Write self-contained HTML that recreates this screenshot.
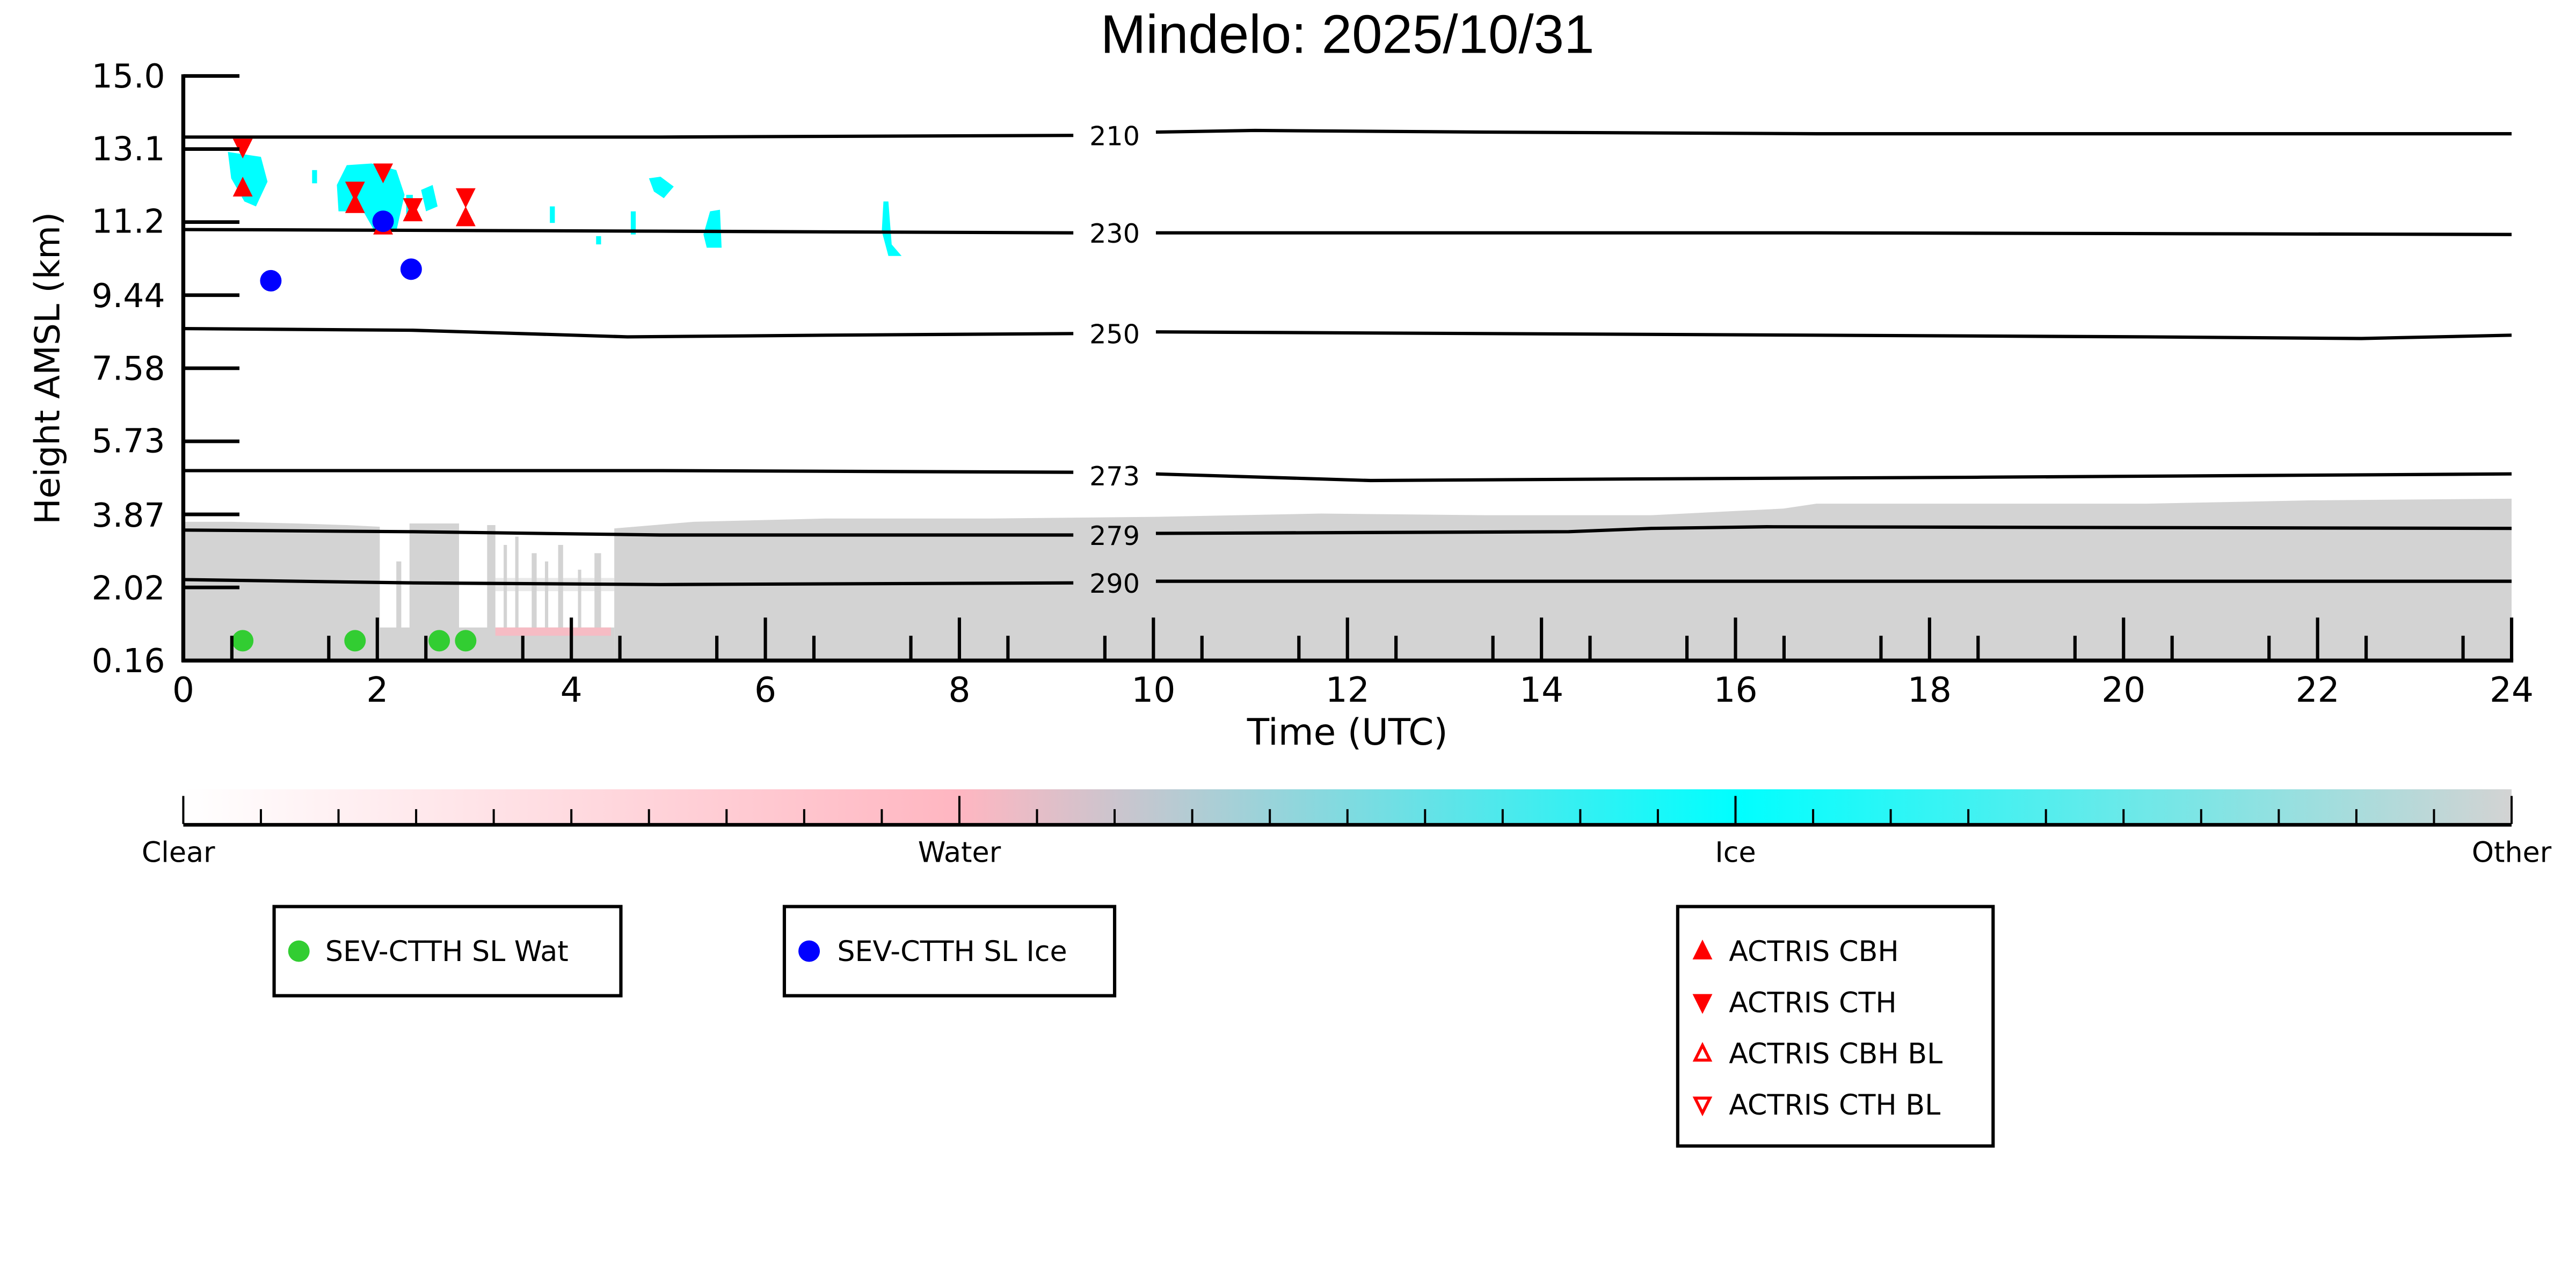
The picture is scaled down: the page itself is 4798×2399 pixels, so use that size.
<!DOCTYPE html>
<html><head><meta charset="utf-8"><style>html,body{margin:0;padding:0;background:#fff}svg{display:block}</style></head>
<body>
<svg width="4798" height="2399" viewBox="0 0 1560 780" xmlns="http://www.w3.org/2000/svg" font-family="'DejaVu Sans','Liberation Sans',sans-serif">
<defs>
<linearGradient id="cb" x1="0" x2="1" y1="0" y2="0">
<stop offset="0" stop-color="#ffffff"/>
<stop offset="0.333" stop-color="#ffb6c1"/>
<stop offset="0.667" stop-color="#00ffff"/>
<stop offset="1" stop-color="#d3d3d3"/>
</linearGradient>
</defs>
<rect width="1560" height="780" fill="#fff"/>
<text x="816" y="32" font-size="33" text-anchor="middle" font-family="'Liberation Sans',sans-serif">Mindelo: 2025/10/31</text>

<path d="M111,400 L111,316 L140,316 L180,317 L210,318 L230,319 L230,400 Z" fill="#d3d3d3"/>
<path d="M248,400 L248,317 L278,317 L278,400 Z" fill="#d3d3d3"/>
<path d="M295,400 L295,318 L300,318 L300,400 Z" fill="#d3d3d3"/>
<path d="M372,400 L372,320 L420,316 L500,314 L600,314 L700,313 L800,311 L900,312 L1000,312 L1080,308 L1100,305 L1200,305 L1300,305 L1400,303 L1521,302 L1521,400 Z" fill="#d3d3d3"/>
<g fill="#d3d3d3">
<rect x="230" y="380" width="142" height="20"/>
<rect x="240" y="340" width="3" height="60"/>
<rect x="305" y="330" width="2" height="55"/>
<rect x="312" y="325" width="2" height="60"/>
<rect x="322" y="335" width="3" height="50"/>
<rect x="330" y="340" width="2" height="45"/>
<rect x="338" y="330" width="3" height="55"/>
<rect x="350" y="345" width="2" height="40"/>
<rect x="360" y="335" width="4" height="50"/>
<rect x="300" y="350" width="72" height="8" opacity="0.5"/>
</g>
<g fill="#ffb6c1" opacity="0.8">
<rect x="300" y="380" width="70" height="5"/>
</g>

<g fill="#00ffff">
<path d="M138,92 L158,95 L162,110 L155,125 L148,122 L140,108 Z"/>
<path d="M204,112 L210,100 L225,99 L240,103 L245,118 L240,140 L228,142 L220,128 L205,128 Z"/>
<path d="M255,115 L262,112 L265,125 L258,128 Z"/>
<rect x="189" y="103" width="3" height="8"/>
<rect x="246" y="118" width="4" height="12"/>
<rect x="333" y="125" width="3" height="10"/>
<rect x="361" y="143" width="3" height="5"/>
<rect x="382" y="128" width="3" height="14"/>
<path d="M393,108 L400,107 L408,113 L402,120 L396,116 Z"/>
<path d="M430,128 L436,127 L437,150 L428,150 L426,142 Z"/>
<path d="M535,122 L538,122 L540,148 L546,155 L538,155 L534,140 Z"/>
</g>

<g fill="none" stroke="#000" stroke-width="2">
<path d="M111,83 L400,83 L650,82"/><path d="M700,80 L760,79 L900,80 L1100,81 L1521,81"/>
<path d="M111,139 L400,140 L650,141"/><path d="M700,141 L1100,141 L1521,142"/>
<path d="M111,199 L250,200 L380,204 L500,203 L650,202"/><path d="M700,201 L900,202 L1100,203 L1300,204 L1430,205 L1521,203"/>
<path d="M111,285 L400,285 L650,286"/><path d="M700,287 L830,291 L1000,290 L1200,289 L1521,287"/>
<path d="M111,321 L250,322 L400,324 L650,324"/><path d="M700,323 L950,322 L1000,320 L1070,319 L1521,320"/>
<path d="M111,351 L250,353 L400,354 L650,353"/><path d="M700,352 L1100,352 L1521,352"/>
</g>
<g font-size="16" text-anchor="middle">
<text x="675" y="88">210</text>
<text x="675" y="147">230</text>
<text x="675" y="208">250</text>
<text x="675" y="294">273</text>
<text x="675" y="330">279</text>
<text x="675" y="359">290</text>
</g>

<g fill="#ff0000">
<path d="M141,84 L153,84 L147,96 Z"/><path d="M141,119 L153,119 L147,107 Z"/>
<path d="M209,110 L221,110 L215,122 Z"/><path d="M209,129 L221,129 L215,117 Z"/>
<path d="M226,99 L238,99 L232,111 Z"/><path d="M226,142 L238,142 L232,130 Z"/>
<path d="M244,120 L256,120 L250,132 Z"/><path d="M244,134 L256,134 L250,122 Z"/>
<path d="M276,114 L288,114 L282,126 Z"/><path d="M276,137 L288,137 L282,125 Z"/>
</g>
<g fill="#0000ff">
<circle cx="164" cy="170" r="6.5"/><circle cx="232" cy="134" r="6.5"/><circle cx="249" cy="163" r="6.5"/>
</g>
<g fill="#32cd32">
<circle cx="147" cy="388" r="6.5"/><circle cx="215" cy="388" r="6.5"/><circle cx="266" cy="388" r="6.5"/><circle cx="282" cy="388" r="6.5"/>
</g>

<g stroke="#000" stroke-width="2.4">
<line x1="111" y1="45" x2="111" y2="401"/>
<line x1="110" y1="400" x2="1522" y2="400"/>
</g>
<g stroke="#000" stroke-width="2.2">
<line x1="111" y1="46" x2="145" y2="46"/>
<line x1="111" y1="90.25" x2="145" y2="90.25"/>
<line x1="111" y1="134.5" x2="145" y2="134.5"/>
<line x1="111" y1="178.75" x2="145" y2="178.75"/>
<line x1="111" y1="223" x2="145" y2="223"/>
<line x1="111" y1="267.25" x2="145" y2="267.25"/>
<line x1="111" y1="311.5" x2="145" y2="311.5"/>
<line x1="111" y1="355.75" x2="145" y2="355.75"/>
</g>
<g font-size="20" text-anchor="end">
<text x="100" y="53">15.0</text>
<text x="100" y="97">13.1</text>
<text x="100" y="141">11.2</text>
<text x="100" y="186">9.44</text>
<text x="100" y="230">7.58</text>
<text x="100" y="274">5.73</text>
<text x="100" y="319">3.87</text>
<text x="100" y="363">2.02</text>
<text x="100" y="407">0.16</text>
</g>
<text transform="translate(36,223) rotate(-90)" font-size="21" text-anchor="middle">Height AMSL (km)</text>
<g stroke="#000" stroke-width="2">
<path d="M140.4,400v-15M199.1,400v-15M257.9,400v-15M316.6,400v-15M375.4,400v-15M434.1,400v-15M492.9,400v-15M551.6,400v-15M610.4,400v-15M669.1,400v-15M727.9,400v-15M786.6,400v-15M845.4,400v-15M904.1,400v-15M962.9,400v-15M1021.6,400v-15M1080.4,400v-15M1139.1,400v-15M1197.9,400v-15M1256.6,400v-15M1315.4,400v-15M1374.1,400v-15M1432.9,400v-15M1491.6,400v-15"/>
<path d="M228.5,400v-26M346,400v-26M463.5,400v-26M581,400v-26M698.5,400v-26M816,400v-26M933.5,400v-26M1051,400v-26M1168.5,400v-26M1286,400v-26M1403.5,400v-26M1521,400v-26"/>
</g>
<g font-size="21" text-anchor="middle">
<text x="111" y="425">0</text><text x="228.5" y="425">2</text><text x="346" y="425">4</text><text x="463.5" y="425">6</text><text x="581" y="425">8</text><text x="698.5" y="425">10</text><text x="816" y="425">12</text><text x="933.5" y="425">14</text><text x="1051" y="425">16</text><text x="1168.5" y="425">18</text><text x="1286" y="425">20</text><text x="1403.5" y="425">22</text><text x="1521" y="425">24</text>
</g>
<text x="816" y="451" font-size="22" text-anchor="middle">Time (UTC)</text>

<rect x="111" y="478" width="1410" height="21" fill="url(#cb)"/>
<line x1="111" y1="499.5" x2="1521" y2="499.5" stroke="#000" stroke-width="2.2"/>
<g stroke="#000" stroke-width="1.3">
<path d="M111,499v-17M581,499v-17M1051,499v-17M1521,499v-17"/>
<path d="M158,499v-9M205,499v-9M252,499v-9M299,499v-9M346,499v-9M393,499v-9M440,499v-9M487,499v-9M534,499v-9M628,499v-9M675,499v-9M722,499v-9M769,499v-9M816,499v-9M863,499v-9M910,499v-9M957,499v-9M1004,499v-9M1098,499v-9M1145,499v-9M1192,499v-9M1239,499v-9M1286,499v-9M1333,499v-9M1380,499v-9M1427,499v-9M1474,499v-9"/>
</g>
<g font-size="17" text-anchor="middle">
<text x="108" y="522">Clear</text><text x="581" y="522">Water</text><text x="1051" y="522">Ice</text><text x="1521" y="522">Other</text>
</g>

<g fill="#fff" stroke="#000" stroke-width="2">
<rect x="166" y="549" width="210" height="54"/>
<rect x="475" y="549" width="200" height="54"/>
<rect x="1016" y="549" width="191" height="145"/>
</g>
<g font-size="17">
<circle cx="181" cy="576" r="6.5" fill="#32cd32"/><text x="197" y="582">SEV-CTTH SL Wat</text>
<circle cx="490" cy="576" r="6.5" fill="#0000ff"/><text x="507" y="582">SEV-CTTH SL Ice</text>
<path d="M1025,581 L1037,581 L1031,569 Z" fill="#f00"/><text x="1047" y="582">ACTRIS CBH</text>
<path d="M1025,602 L1037,602 L1031,614 Z" fill="#f00"/><text x="1047" y="613">ACTRIS CTH</text>
<path d="M1026.5,642 L1035.5,642 L1031,633 Z" fill="none" stroke="#f00" stroke-width="1.8"/><text x="1047" y="644">ACTRIS CBH BL</text>
<path d="M1026.5,665 L1035.5,665 L1031,674 Z" fill="none" stroke="#f00" stroke-width="1.8"/><text x="1047" y="675">ACTRIS CTH BL</text>
</g>
</svg>
</body></html>
